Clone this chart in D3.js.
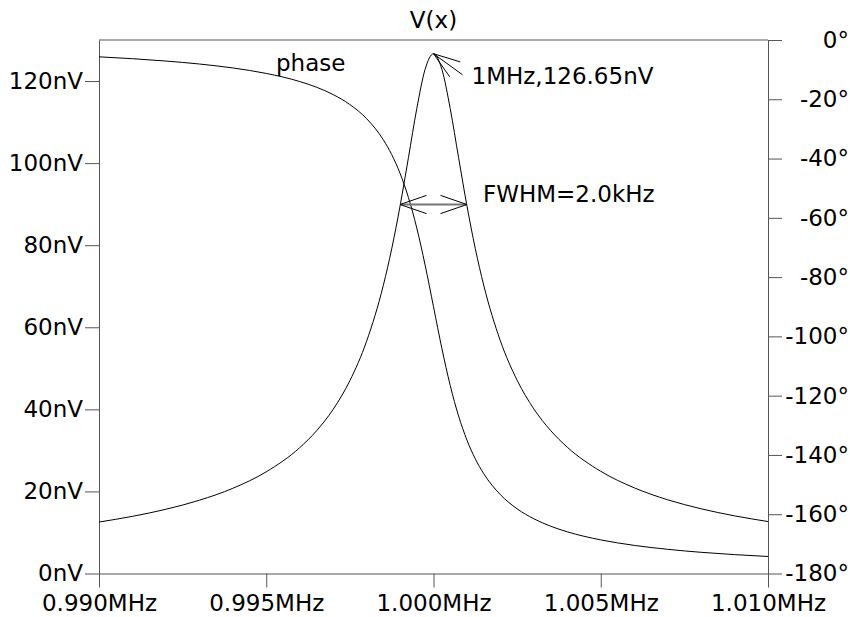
<!DOCTYPE html>
<html>
<head>
<meta charset="utf-8">
<script src="https://cdn.jsdelivr.net/npm/d3@7"></script>
<style>
  body { margin: 0; background: #fff; }
  svg text { font-family: 'DejaVu Sans', Verdana, sans-serif; font-size: 23px; fill: #000; }
</style>
</head>
<body>
<div id="chart"></div>
<script>
// frequency points (MHz)
const freqMHz = [0.990, 0.991, 0.992, 0.993, 0.994, 0.995, 0.996, 0.9965, 0.997, 0.9975, 0.998, 0.9985,
  0.99875, 0.999, 0.99925, 0.9995, 0.99975, 1.000, 1.00025, 1.0005, 1.00075, 1.001, 1.00125,
  1.0015, 1.002, 1.0025, 1.003, 1.0035, 1.004, 1.005, 1.006, 1.007, 1.008, 1.009, 1.010];
// |V(x)| in nV
const magnitudeNV = [12.54, 13.93, 15.65, 17.85, 20.76, 24.78, 30.66, 34.74, 40.00, 46.99, 56.59, 70.22,
  79.09, 89.53, 101.30, 113.27, 122.87, 126.65, 122.87, 113.28, 101.33, 89.58, 79.15,
  70.29, 56.68, 47.09, 40.10, 34.85, 30.77, 24.90, 20.88, 17.97, 15.77, 14.05, 12.66];
// phase in degrees
const phaseDeg = [-5.68, -6.31, -7.10, -8.10, -9.43, -11.28, -14.01, -15.92, -18.41, -21.78, -26.54, -33.67,
  -38.64, -44.99, -53.12, -63.43, -75.96, -90.00, -104.04, -116.56, -126.86, -134.99, -141.33,
  -146.29, -153.41, -158.18, -161.54, -164.03, -165.94, -168.66, -170.51, -171.84, -172.85, -173.63, -174.26];

const xTicks = [0.990, 0.995, 1.000, 1.005, 1.010];
const leftTicks = [0, 20, 40, 60, 80, 100, 120];
const rightTicks = [0, -20, -40, -60, -80, -100, -120, -140, -160, -180];

const peak = { f: 1.000, v: 126.65, label: '1MHz,126.65nV' };
const fwhm = { f1: 0.999, f2: 1.001, v: 89.55, label: 'FWHM=2.0kHz' };

const width = 850;
const height = 617;
const margin = { top: 40, right: 82, bottom: 43.5, left: 99 };
const axisColor = '#555';
const fontSize = '23px';

const svg = d3
  .select('#chart')
  .append('svg')
  .attr('width', width)
  .attr('height', height);

const x = d3.scaleLinear().domain([0.990, 1.010]).range([margin.left, width - margin.right]);
const yMag = d3.scaleLinear().domain([0, 130]).range([height - margin.bottom, margin.top]);
const yPh = d3.scaleLinear().domain([-180, 0]).range([height - margin.bottom, margin.top]);

const x0 = x.range()[0], x1 = x.range()[1];
const yb = yMag.range()[0], yt = yMag.range()[1];

// top frame line
svg.append('line')
  .attr('x1', x0).attr('x2', x1)
  .attr('y1', yt).attr('y2', yt)
  .attr('stroke', axisColor);

// axes
const styleAxis = (g) => {
  g.select('.domain').attr('stroke', axisColor);
  g.selectAll('.tick line').attr('stroke', axisColor);
  g.selectAll('.tick text').attr('fill', '#000').style('font-size', fontSize)
    .style('font-family', "'DejaVu Sans', Verdana, sans-serif");
};

svg.append('g')
  .attr('transform', `translate(0,${yb})`)
  .call(d3.axisBottom(x).tickValues(xTicks).tickSize(14).tickSizeOuter(0)
    .tickFormat((d) => d3.format('.3f')(d) + 'MHz'))
  .call(styleAxis)
  .call((g) => g.selectAll('.tick text').attr('dy', null).attr('y', 37.5));

svg.append('g')
  .attr('transform', `translate(${x0},0)`)
  .call(d3.axisLeft(yMag).tickValues(leftTicks).tickSize(14).tickSizeOuter(0).tickPadding(2)
    .tickFormat((d) => d + 'nV'))
  .call(styleAxis);

svg.append('g')
  .attr('transform', `translate(${x1},0)`)
  .call(d3.axisRight(yPh).tickValues(rightTicks).tickSize(14).tickSizeOuter(0)
    .tickFormat((d) => d + '°'))
  .call(styleAxis)
  .call((g) => g.selectAll('.tick text').attr('text-anchor', 'end').attr('x', width - 1 - x1));

// title
svg.append('text')
  .attr('x', (x0 + x1) / 2)
  .attr('y', 28)
  .attr('text-anchor', 'middle')
  .text('V(x)');

// curves
const rows = freqMHz.map((f, i) => ({ f, v: magnitudeNV[i], p: phaseDeg[i] }));

svg.append('path')
  .datum(rows)
  .attr('fill', 'none')
  .attr('stroke', '#000')
  .attr('stroke-width', 1)
  .attr('d', d3.line().x((d) => x(d.f)).y((d) => yMag(d.v)).curve(d3.curveMonotoneX));

svg.append('path')
  .datum(rows)
  .attr('fill', 'none')
  .attr('stroke', '#000')
  .attr('stroke-width', 1)
  .attr('d', d3.line().x((d) => x(d.f)).y((d) => yPh(d.p)).curve(d3.curveMonotoneX));

svg.append('text')
  .attr('x', 276)
  .attr('y', 71)
  .text('phase');

// arrowhead helper: wings at the tip, pointing back toward "from"
function arrowHead(g, tipX, tipY, fromX, fromY) {
  const a = Math.atan2(fromY - tipY, fromX - tipX);
  const len = 28;
  const spread = 19 * Math.PI / 180;
  [a - spread, a + spread].forEach((ang) => {
    g.append('line')
      .attr('x1', tipX).attr('y1', tipY)
      .attr('x2', tipX + len * Math.cos(ang)).attr('y2', tipY + len * Math.sin(ang))
      .attr('stroke', '#000');
  });
}

// peak cursor
const ann = svg.append('g');
const px = x(peak.f), py = yMag(peak.v);
const tailX = px + 29, tailY = py + 21;
ann.append('line')
  .attr('x1', px).attr('y1', py).attr('x2', tailX).attr('y2', tailY)
  .attr('stroke', '#000');
arrowHead(ann, px, py, tailX, tailY);
ann.append('text')
  .attr('x', tailX + 9)
  .attr('y', py + 30.5)
  .text(peak.label);

// FWHM marker
const fx1 = x(fwhm.f1), fx2 = x(fwhm.f2), fy = yMag(fwhm.v) - 1.5;
ann.append('line')
  .attr('x1', fx1).attr('x2', fx2).attr('y1', fy).attr('y2', fy)
  .attr('stroke', '#777').attr('stroke-width', 2);
arrowHead(ann, fx1, fy, fx2, fy);
arrowHead(ann, fx2, fy, fx1, fy);
ann.append('text')
  .attr('x', fx2 + 16)
  .attr('y', 202)
  .text(fwhm.label);
</script>
</body>
</html>
